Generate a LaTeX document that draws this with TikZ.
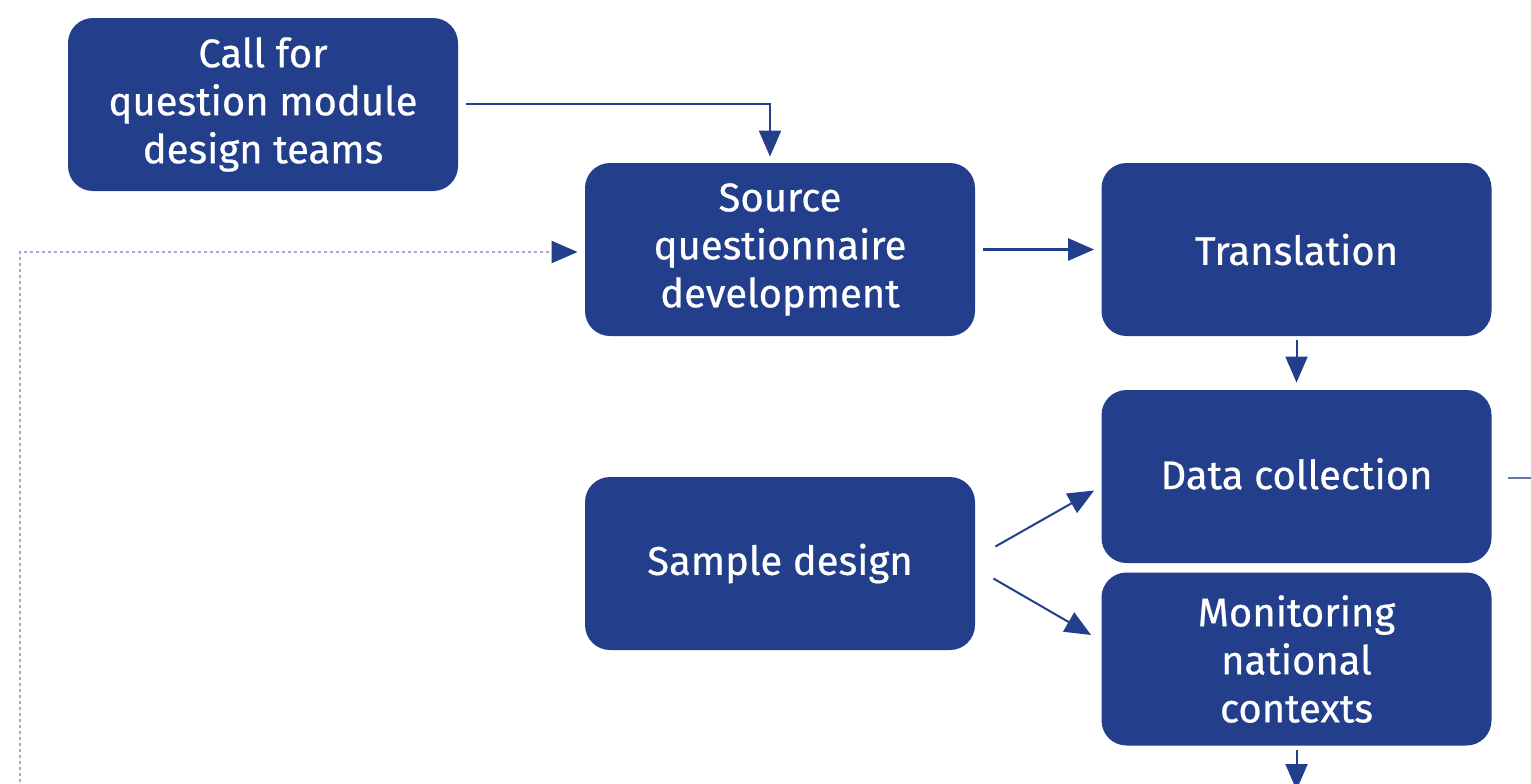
\documentclass[tikz,border=0pt]{standalone}
\usepackage{fontspec}
\setmainfont{Fira Sans}[BoldFont={Fira Sans},BoldFeatures={FakeBold=0.6}]
\usetikzlibrary{arrows.meta,calc}
\definecolor{boxblue}{RGB}{35,62,139}
\definecolor{dotblue}{RGB}{160,170,210}
\begin{document}
\begin{tikzpicture}[x=0.5pt,y=-0.5pt,
  stepbox/.style={draw=none,fill=boxblue,text=white,rounded corners=12.5pt,
    minimum width=195pt,minimum height=86.5pt,align=center,inner sep=0pt,
    font=\fontsize{20}{24}\selectfont\bfseries},
  flow/.style={draw=boxblue,line width=1pt,-{Triangle[length=13pt,width=11pt]}},
  link/.style={draw=boxblue!70,line width=1pt},
  feedback/.style={draw=dotblue,line width=1pt,dash pattern=on 1.5pt off 1.5pt,
    -{Triangle[length=13pt,width=11pt,color=boxblue]}}]
\useasboundingbox (0,0) rectangle (1531,783);
\clip (0,0) rectangle (1531,783);

% process boxes
\node[stepbox] (call) at (263,104.5) {Call for\\question module\\design teams};
\node[stepbox] (src)  at (780,249.5) {Source\\questionnaire\\development};
\node[stepbox] (trn)  at (1296.5,249.5) {Translation};
\node[stepbox] (dat)  at (1296.5,476.5) {\raisebox{3pt}{Data collection}};
\node[stepbox] (smp)  at (780,563.5) {\raisebox{2pt}{Sample design}};
\node[stepbox] (mon)  at (1296.5,659) {Monitoring\\national\\contexts};

% loose ends leaving the view
\coordinate (fbbottom) at (20,800);
\coordinate (datout) at (1545,478);
\coordinate (monout) at (1296.5,790);

% connectors
\draw[flow,shorten <=4pt,shorten >=3pt] (call.east |- 0,104) -| ($(src.north)+(-10,0)$);
\draw[flow,line width=1.4pt,shorten <=4pt,shorten >=3.5pt] (src.east) -- (trn.west);
\draw[flow,shorten <=2pt,shorten >=3.5pt] (trn.south) -- (dat.north);
\draw[flow] ($(smp.east)+(20,-17)$) -- ($(dat.west)+(-7,14)$);
\draw[flow] ($(smp.east)+(18,15)$) -- ($(mon.west)+(-10,-24)$);
\draw[link] ($(dat.east)+(16,1.5)$) -- (datout);
\draw[flow] ($(mon.south)+(0,4)$) -- (monout);
\draw[feedback] (fbbottom) |- ($(src.west)+(-7,2.5)$);
\end{tikzpicture}
\end{document}
